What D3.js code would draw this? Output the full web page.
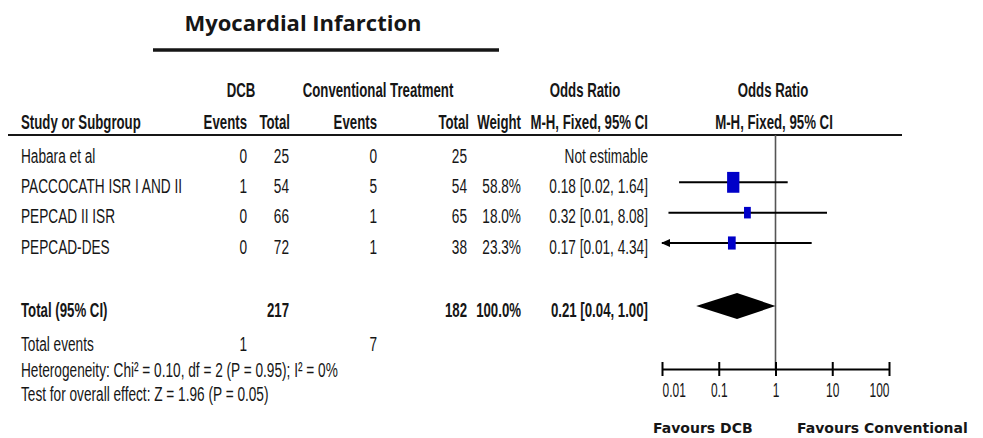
<!DOCTYPE html>
<html>
<head>
<meta charset="utf-8">
<script src="https://cdn.jsdelivr.net/npm/d3@7"></script>
<style>
  body { margin: 0; background: #fff; }
  svg { display: block; }
</style>
</head>
<body>
<div id="chart"></div>
<script>
// study rows
var studies = ["Habara et al", "PACCOCATH ISR I AND II", "PEPCAD II ISR", "PEPCAD-DES"];
var dcbEvents = [0, 1, 0, 0];
var dcbTotal = [25, 54, 66, 72];
var convEvents = [0, 5, 1, 1];
var convTotal = [25, 54, 65, 38];
var weights = [null, 58.8, 18.0, 23.3];
var oddsRatio = [null, 0.18, 0.32, 0.17];
var ciLow = [null, 0.02, 0.013, 0.007];
var ciHigh = [null, 1.64, 8.08, 4.34];

// pooled result: [estimate, low, high]
var pooled = [0.21, 0.04, 1.00];
var totals = [217, 182];
var totalWeight = 100.0;
var totalEvents = [1, 7];
var axisTicks = [0.01, 0.1, 1, 10, 100];

var width = 983, height = 438;
var ink = "#161616";
var tableFont = "'Liberation Sans', Arial, sans-serif";

var svg = d3.select("#chart").append("svg")
    .attr("width", width)
    .attr("height", height);

svg.append("rect").attr("width", width).attr("height", height).attr("fill", "#fff");

var fmt2 = d3.format(".2f"),
    fmtW = function(v) { return d3.format(".1f")(v) + "%"; };

//x scale for the forest plot
var x = d3.scaleLog().domain([0.01, 100]).range([662, 889]);
var rowY = d3.scalePoint().domain(studies).range([155, 246]);
var boxW = d3.scaleSqrt().domain([0, 100]).range([0, 16]);

// narrow text: the original is a squeezed Arial
function txt(px, py, s, anchor, bold) {
  var scale = bold ? 0.63 : 0.65;
  return svg.append("text")
      .attr("transform", "translate(" + px + "," + (py + 7.5) + ") scale(" + scale + ",1)")
      .attr("text-anchor", anchor || "start")
      .attr("font-family", tableFont)
      .attr("font-size", "21px")
      .attr("font-weight", bold ? "bold" : "normal")
      .attr("fill", ink)
      .text(s);
}

// title
svg.append("text")
    .attr("x", 303).attr("y", 31)
    .attr("text-anchor", "middle")
    .attr("font-family", "'Open Sans', sans-serif")
    .attr("font-weight", "bold")
    .attr("font-size", "22px")
    .attr("fill", ink)
    .text("Myocardial Infarction");
svg.append("line")
    .attr("x1", 153).attr("x2", 499).attr("y1", 50).attr("y2", 50)
    .attr("stroke", ink).attr("stroke-width", 3.5);

// headers
var h1 = 89, h2 = 121;
txt(241, h1, "DCB", "middle", true);
txt(378, h1, "Conventional Treatment", "middle", true);
txt(585, h1, "Odds Ratio", "middle", true);
txt(773, h1, "Odds Ratio", "middle", true);
txt(21, h2, "Study or Subgroup", "start", true);
txt(247, h2, "Events", "end", true);
txt(290, h2, "Total", "end", true);
txt(377, h2, "Events", "end", true);
txt(469, h2, "Total", "end", true);
txt(521, h2, "Weight", "end", true);
txt(648, h2, "M-H, Fixed, 95% CI", "end", true);
txt(774, h2, "M-H, Fixed, 95% CI", "middle", true);

svg.append("line")
    .attr("x1", 8).attr("x2", 902).attr("y1", 135).attr("y2", 135)
    .attr("stroke", ink).attr("stroke-width", 2.2);

// study rows
studies.forEach(function(s, i) {
  var yc = rowY(s);
  txt(21, yc, s, "start");
  txt(247, yc, dcbEvents[i], "end");
  txt(289, yc, dcbTotal[i], "end");
  txt(377, yc, convEvents[i], "end");
  txt(467, yc, convTotal[i], "end");
  if (weights[i] == null) {
    txt(648, yc, "Not estimable", "end");
  } else {
    txt(521, yc, fmtW(weights[i]), "end");
    txt(648, yc, fmt2(oddsRatio[i]) + " [" + fmt2(ciLow[i]) + ", " + fmt2(ciHigh[i]) + "]", "end");
  }
});

// totals
var ty = 309;
txt(21, ty, "Total (95% CI)", "start", true);
txt(289, ty, totals[0], "end", true);
txt(467, ty, totals[1], "end", true);
txt(521, ty, fmtW(totalWeight), "end", true);
txt(648, ty, fmt2(pooled[0]) + " [" + fmt2(pooled[1]) + ", " + fmt2(pooled[2]) + "]", "end", true);

txt(21, 343, "Total events", "start");
txt(247, 343, totalEvents[0], "end");
txt(377, 343, totalEvents[1], "end");
txt(21, 369, "Heterogeneity: Chi\u00b2 = 0.10, df = 2 (P = 0.95); I\u00b2 = 0%", "start");
txt(21, 393, "Test for overall effect: Z = 1.96 (P = 0.05)", "start");

// line of no effect
svg.append("line")
    .attr("x1", x(1)).attr("x2", x(1)).attr("y1", 135).attr("y2", 369)
    .attr("stroke", "#555").attr("stroke-width", 1.6);

// confidence intervals + boxes
var plotRows = studies.map(function(s, i) { return i; }).filter(function(i) { return weights[i] != null; });

plotRows.forEach(function(i) {
  var cy = rowY(studies[i]) - 3;
  var lo = Math.max(ciLow[i], x.domain()[0]);
  svg.append("line")
      .attr("x1", x(lo)).attr("x2", x(ciHigh[i]))
      .attr("y1", cy).attr("y2", cy)
      .attr("stroke", "#000").attr("stroke-width", 2);
  if (ciLow[i] < x.domain()[0]) {
    var ax = x(x.domain()[0]);
    svg.append("path")
        .attr("d", "M" + (ax - 1) + "," + cy + "L" + (ax + 8) + "," + (cy - 4) + "L" + (ax + 8) + "," + (cy + 4) + "Z")
        .attr("fill", "#000");
  }
  var w = boxW(weights[i]), hgt = w * 1.7;
  svg.append("rect")
      .attr("x", x(oddsRatio[i]) - w / 2).attr("y", cy - hgt / 2)
      .attr("width", w).attr("height", hgt)
      .attr("fill", "#0000c8");
});

// pooled diamond
var dy = 306;
svg.append("path")
    .attr("d", "M" + x(pooled[1]) + "," + dy +
               "L" + x(pooled[0]) + "," + (dy - 13) +
               "L" + x(pooled[2]) + "," + dy +
               "L" + x(pooled[0]) + "," + (dy + 13) + "Z")
    .attr("fill", "#000");

// axis
var axis = d3.axisBottom(x)
    .tickValues(axisTicks)
    .tickFormat(d3.format("~g"))
    .tickSize(7)
    .tickSizeOuter(0);

var gAxis = svg.append("g")
    .attr("transform", "translate(0,369)")
    .call(axis);

gAxis.select(".domain").attr("stroke", "#000").attr("stroke-width", 2);
gAxis.selectAll(".tick line").attr("y1", -7).attr("stroke", "#000").attr("stroke-width", 2);
gAxis.selectAll(".tick text")
    .attr("y", 0).attr("dy", null)
    .attr("transform", "translate(0,28) scale(0.57,1)")
    .attr("font-family", tableFont)
    .attr("font-size", "21px")
    .attr("fill", ink)
    .attr("text-anchor", function(d, i) { return i === 0 ? "start" : (i === axisTicks.length - 1 ? "end" : "middle"); });

// favours labels
svg.append("text")
    .attr("x", 653).attr("y", 433)
    .attr("font-family", "'DejaVu Sans', sans-serif")
    .attr("font-weight", "bold").attr("font-size", "14px")
    .attr("fill", ink)
    .text("Favours DCB");
svg.append("text")
    .attr("x", 797).attr("y", 433)
    .attr("font-family", "'DejaVu Sans', sans-serif")
    .attr("font-weight", "bold").attr("font-size", "14px")
    .attr("fill", ink)
    .text("Favours Conventional");
</script>
</body>
</html>
